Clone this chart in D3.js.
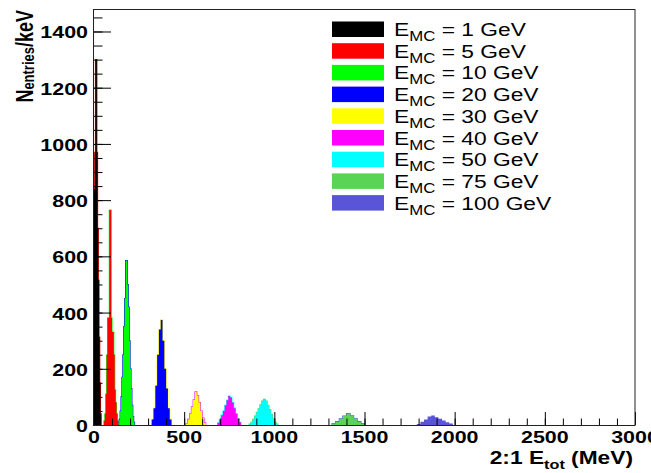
<!DOCTYPE html>
<html>
<head>
<meta charset="utf-8">
<script src="https://cdn.jsdelivr.net/npm/d3@7"></script>
<style>
  body { margin: 0; background: #fff; }
  svg { display: block; }
  text { font-family: "Liberation Sans", Arial, Helvetica, sans-serif; fill: #000; }
</style>
</head>
<body>
<script>
// beam energies (GeV) and the ROOT colours used for each histogram
const energies = [1, 5, 10, 20, 30, 40, 50, 75, 100]
const fillColors = ['#000000', '#ff0000', '#00ff00', '#0000ff', '#ffff00', '#ff00ff', '#00ffff', '#59d454', '#5954d8']
// the outline ends up in the next colour index (last one is white)
const lineColors = ['#ff0000', '#00ff00', '#0000ff', '#ffff00', '#ff00ff', '#00ffff', '#59d454', '#5954d8', '#ffffff']

// first bin edge and bin width in MeV, per histogram
const binStart = [0, 55, 140, 320, 510, 685, 860, 1320, 1790]
const binWidth = [4, 5, 5, 10, 10, 10, 10, 20, 20]

// N entries / keV
const h1 = [840, 970, 1300, 1300, 970, 700, 516, 313, 150, 40]
const h5 = [15, 40, 110, 250, 381, 381, 765, 765, 381, 331, 331, 250, 125, 80, 40, 15]
const h10 = [20, 50, 100, 170, 250, 350, 450, 585, 585, 500, 420, 300, 200, 130, 70, 30, 10]
const h20 = [20, 60, 140, 250, 340, 374, 300, 200, 130, 60, 20]
const h30 = [5, 20, 40, 65, 90, 118, 105, 80, 50, 25, 8]
const h40 = [8, 20, 35, 50, 70, 88, 103, 98, 80, 60, 40, 22, 10]
const h50 = [3, 10, 20, 32, 45, 58, 72, 85, 91, 85, 70, 55, 38, 22, 10, 3]
const h75 = [5, 12, 22, 32, 41, 33, 22, 12, 4]
const h100 = [4, 12, 20, 30, 34, 28, 22, 16, 10, 5]
const counts = [h1, h5, h10, h20, h30, h40, h50, h75, h100]

const xTicks = [0, 500, 1000, 1500, 2000, 2500, 3000]
const yTicks = [0, 200, 400, 600, 800, 1000, 1200, 1400]

const width = 651
const height = 473
const sx = 1.3 // the original png is stretched sideways

const x = d3.scaleLinear().domain([0, 3000]).range([94, 635])
const y = d3.scaleLinear().domain([0, 1480]).range([425, 9])

const svg = d3.select('body').append('svg')
  .attr('width', width)
  .attr('height', height)

const series = energies.map((e, i) => ({
  e,
  start: binStart[i],
  w: binWidth[i],
  values: counts[i],
  fill: fillColors[i],
  stroke: lineColors[i],
}))

function steps(s) {
  const pts = [[s.start, 0]]
  s.values.forEach((v, k) => {
    pts.push([s.start + k * s.w, v], [s.start + (k + 1) * s.w, v])
  })
  pts.push([s.start + s.values.length * s.w, 0])
  return pts
}

const line = d3.line().x(d => x(d[0])).y(d => y(d[1]))

// outline first, fill on top, so only the outer edge of the line shows
const hists = svg.append('g')
  .attr('class', 'hists')
  .selectAll('g')
  .data(series)
  .join('g')

hists.append('path')
  .attr('d', s => line(steps(s)))
  .attr('fill', 'none')
  .attr('stroke', s => s.stroke)
  .attr('stroke-width', 1.1)

hists.append('path')
  .attr('d', s => line(steps(s)))
  .attr('fill', s => s.fill)

// ticks point inwards, ROOT style
const xMinor = d3.range(0, 3001, 100)
const yMinor = d3.range(0, 1480, 50)

svg.append('g')
  .attr('transform', `translate(0,${y(0)})`)
  .call(d3.axisBottom(x).tickValues(xMinor).tickSize(-6.5).tickFormat(''))
  .call(g => g.append('g').call(d3.axisBottom(x).tickValues(xTicks).tickSize(-13).tickFormat('')))
  .call(g => g.selectAll('.domain').remove())

svg.append('g')
  .attr('transform', `translate(${x(0)},0)`)
  .call(d3.axisLeft(y).tickValues(yMinor).tickSize(-8.5).tickFormat(''))
  .call(g => g.append('g').call(d3.axisLeft(y).tickValues(yTicks).tickSize(-17).tickFormat('')))
  .call(g => g.selectAll('.domain').remove())

svg.append('rect')
  .attr('x', x(0) - 0.5)
  .attr('y', y.range()[1] + 0.5)
  .attr('width', x(3000) - x(0) + 0.5)
  .attr('height', y(0) - y.range()[1])
  .attr('fill', 'none')
  .attr('stroke', '#222')
  .attr('stroke-width', 1)

// tick labels
svg.append('g')
  .selectAll('text')
  .data(xTicks)
  .join('text')
  .attr('transform', d => `translate(${x(d)},443.3) scale(${sx},1)`)
  .attr('text-anchor', 'middle')
  .attr('font-weight', 'bold')
  .attr('font-size', 16.5)
  .text(d => d)

svg.append('g')
  .selectAll('text')
  .data(yTicks)
  .join('text')
  .attr('transform', d => `translate(88,${y(d) + 7}) scale(${sx},1)`)
  .attr('text-anchor', 'end')
  .attr('font-weight', 'bold')
  .attr('font-size', 16.5)
  .text(d => d)

// axis titles
const xt = svg.append('text')
  .attr('transform', `translate(633,464) scale(${sx},1)`)
  .attr('text-anchor', 'end')
  .attr('font-weight', 'bold')
  .attr('font-size', 17.5)
xt.append('tspan').text('2:1 E')
xt.append('tspan').attr('font-size', 12.5).attr('dy', 5).text('tot')
xt.append('tspan').attr('dy', -5).text(' (MeV)')

const yt = svg.append('text')
  .attr('transform', `translate(33,10) scale(${sx},1) rotate(-90)`)
  .attr('text-anchor', 'end')
  .attr('font-weight', 'bold')
  .attr('font-size', 18)
yt.append('tspan').text('N')
yt.append('tspan').attr('font-size', 13).attr('dy', 1).text('entries')
yt.append('tspan').attr('dy', -1).text('/keV')

// legend
const legend = svg.append('g')
const rows = legend.selectAll('g')
  .data(series)
  .join('g')
  .attr('transform', (d, i) => `translate(0,${21.5 + i * 21.7})`)

rows.append('rect')
  .attr('x', 332)
  .attr('y', 0)
  .attr('width', 52)
  .attr('height', 15.5)
  .attr('fill', d => d.fill)

const lt = rows.append('text')
  .attr('transform', 'translate(394,14.5) scale(1.2,1)')
  .attr('font-size', 19)
lt.append('tspan').text('E')
lt.append('tspan').attr('font-size', 14).attr('dy', 5).text('MC')
lt.append('tspan').attr('dy', -5).text(d => ` = ${d.e} GeV`)
</script>
</body>
</html>
